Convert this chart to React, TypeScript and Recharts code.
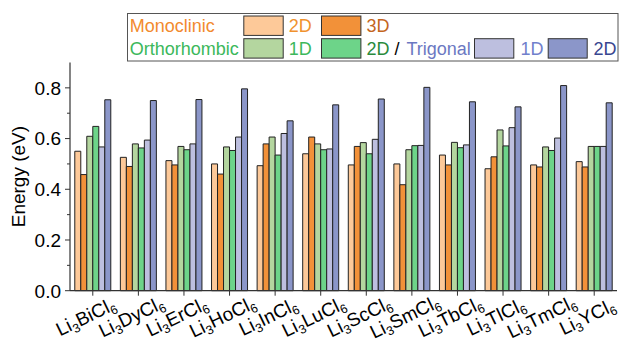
import React from 'react';
import { BarChart, Bar, XAxis, YAxis, Legend } from 'recharts';

const elements = ['Bi', 'Dy', 'Er', 'Ho', 'In', 'Lu', 'Sc', 'Sm', 'Tb', 'Tl', 'Tm', 'Y'];
const categories = elements.map((e) => `Li3${e}Cl6`);

const mono2D = [0.55, 0.526, 0.513, 0.5, 0.493, 0.54, 0.496, 0.5, 0.535, 0.481, 0.496, 0.509];
const mono3D = [0.458, 0.49, 0.496, 0.46, 0.579, 0.606, 0.569, 0.418, 0.496, 0.528, 0.488, 0.488];
const ortho1D = [0.609, 0.579, 0.569, 0.567, 0.606, 0.579, 0.584, 0.556, 0.585, 0.634, 0.567, 0.569];
const ortho2D = [0.648, 0.563, 0.556, 0.553, 0.535, 0.556, 0.54, 0.572, 0.564, 0.571, 0.553, 0.569];
const trig1D = [0.567, 0.594, 0.579, 0.606, 0.62, 0.559, 0.597, 0.573, 0.575, 0.643, 0.602, 0.569];
const trig2D = [0.753, 0.75, 0.754, 0.796, 0.67, 0.733, 0.756, 0.802, 0.745, 0.725, 0.809, 0.741];

const yTicks = [0, 0.1, 0.2, 0.3, 0.4, 0.5, 0.6, 0.7, 0.8];
const majorTicks = [0, 0.2, 0.4, 0.6, 0.8];

const data = categories.map((name, i) => ({
  name,
  el: elements[i],
  mono2D: mono2D[i],
  mono3D: mono3D[i],
  ortho1D: ortho1D[i],
  ortho2D: ortho2D[i],
  trig1D: trig1D[i],
  trig2D: trig2D[i],
}));

const C = {
  mono2D: '#fdc999',
  mono3D: '#f29139',
  ortho1D: '#b4d69f',
  ortho2D: '#6dd489',
  trig1D: '#bdbfdf',
  trig2D: '#8b96c9',
};

const FONT = 'Liberation Sans, Arial, Helvetica, sans-serif';
const AX = '#333';
const AXIS_Y = 290.7;

const XTick = (props: any) => {
  const { x, index } = props;
  const el = elements[index];
  const cx = x - 7;
  const cy = AXIS_Y + 26;
  return (
    <text
      x={0}
      y={6.5}
      transform={`translate(${cx},${cy}) rotate(-26)`}
      textAnchor="middle"
      fontSize={19}
      fontFamily={FONT}
      fill="#000"
    >
      <tspan>Li</tspan>
      <tspan fontSize={12.5} dy={4}>3</tspan>
      <tspan dy={-4}>{el}Cl</tspan>
      <tspan fontSize={12.5} dy={4}>6</tspan>
    </text>
  );
};

const YTick = (props: any) => {
  const { x, y, payload } = props;
  const v = payload.value;
  const isMajor = majorTicks.some((m) => Math.abs(m - v) < 1e-6);
  return (
    <g>
      <line x1={x - (isMajor ? 5 : 3)} x2={x} y1={y} y2={y} stroke={AX} strokeWidth={1} />
      {isMajor && (
        <text x={x - 9} y={y + 6.8} textAnchor="end" fontSize={19} fontFamily={FONT} fill="#000">
          {v.toFixed(1)}
        </text>
      )}
    </g>
  );
};

const LegendBox = () => {
  const r1 = 19.3;
  const r2 = 42;
  const fs = 18;
  const sw = (x: number, y: number, w: number, fill: string) => (
    <rect x={x} y={y} width={w} height={19.4} fill={fill} stroke="#333" strokeWidth={1} />
  );
  return (
    <svg width={492} height={49} style={{ display: 'block', overflow: 'visible' }}>
      <rect x={0.5} y={0.5} width={490.5} height={47.5} fill="#fff" stroke="#555" strokeWidth={1} />
      <g fontFamily={FONT} fontSize={fs}>
        <text x={2.8} y={r1} fill="#f28a2e">Monoclinic</text>
        {sw(116.8, 3, 39.4, C.mono2D)}
        <text x={161.8} y={r1} fill="#f0922e">2D</text>
        {sw(194.5, 3, 39.4, C.mono3D)}
        <text x={239.5} y={r1} fill="#c4661e">3D</text>

        <text x={2.8} y={r2} fill="#3cb85b">Orthorhombic</text>
        {sw(116.8, 25.7, 39.4, C.ortho1D)}
        <text x={161.8} y={r2} fill="#3cb85b">1D</text>
        {sw(194.5, 25.7, 39.4, C.ortho2D)}
        <text x={239.5} y={r2} fill="#2a8a3c">2D</text>
        <text x={267.5} y={r2} fill="#000">/</text>
        <text x={279.5} y={r2} fill="#6b78c2">Trigonal</text>
        {sw(347.5, 25.7, 39.3, C.trig1D)}
        <text x={393.5} y={r2} fill="#7080cc">1D</text>
        {sw(421.2, 25.7, 39, C.trig2D)}
        <text x={466.5} y={r2} fill="#384690">2D</text>
      </g>
    </svg>
  );
};

export default function App() {
  const barStroke = '#222';
  return (
    <div style={{ position: 'absolute', left: 0, top: 0, width: 620, height: 342, background: '#fff' }}>
      <BarChart
        width={620}
        height={342}
        data={data}
        margin={{ top: 62.5, right: 3, bottom: 0, left: 0 }}
        barCategoryGap="10.5%"
        barGap={0}
      >
        <XAxis
          dataKey="name"
          interval={0}
          height={51.3}
          tick={<XTick />}
          tickSize={5}
          tickMargin={0}
          tickLine={{ stroke: AX }}
          axisLine={{ stroke: AX, strokeWidth: 1.2 }}
        />
        <XAxis
          xAxisId="top"
          orientation="top"
          dataKey="name"
          height={0}
          tick={false}
          tickLine={false}
          axisLine={{ stroke: '#555' }}
        />
        <YAxis
          domain={[0, 0.9]}
          ticks={yTicks}
          width={70}
          tick={<YTick />}
          tickSize={0}
          tickMargin={0}
          tickLine={false}
          axisLine={{ stroke: AX, strokeWidth: 1.2 }}
          interval={0}
          label={{
            value: 'Energy (eV)',
            angle: -90,
            position: 'insideLeft',
            offset: 18,
            style: { textAnchor: 'middle', fontSize: 19, fontFamily: FONT, fill: '#000' },
          }}
        />
        <YAxis
          yAxisId="right"
          orientation="right"
          width={0}
          tick={false}
          tickLine={false}
          axisLine={{ stroke: '#555' }}
        />
        <Legend
          layout="horizontal"
          verticalAlign="middle"
          align="center"
          content={() => <LegendBox />}
          wrapperStyle={{ position: 'absolute', left: 126.5, top: 12.5, width: 492, height: 49 }}
        />
        <Bar dataKey="mono2D" fill={C.mono2D} stroke={barStroke} strokeWidth={1} isAnimationActive={false} />
        <Bar dataKey="mono3D" fill={C.mono3D} stroke={barStroke} strokeWidth={1} isAnimationActive={false} />
        <Bar dataKey="ortho1D" fill={C.ortho1D} stroke={barStroke} strokeWidth={1} isAnimationActive={false} />
        <Bar dataKey="ortho2D" fill={C.ortho2D} stroke={barStroke} strokeWidth={1} isAnimationActive={false} />
        <Bar dataKey="trig1D" fill={C.trig1D} stroke={barStroke} strokeWidth={1} isAnimationActive={false} />
        <Bar dataKey="trig2D" fill={C.trig2D} stroke={barStroke} strokeWidth={1} isAnimationActive={false} />
      </BarChart>
    </div>
  );
}
